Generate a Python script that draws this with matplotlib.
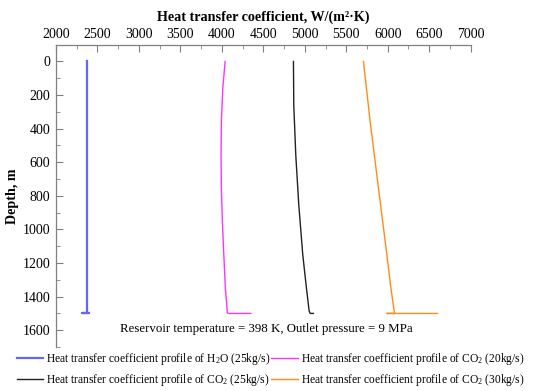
import matplotlib
matplotlib.use("Agg")
import matplotlib.pyplot as plt
from matplotlib.ticker import MultipleLocator

plt.rcParams['font.family'] = ['Liberation Serif', 'DejaVu Serif']
plt.rcParams['mathtext.fontset'] = 'custom'
plt.rcParams['mathtext.rm'] = 'Liberation Serif'
plt.rcParams['mathtext.it'] = 'Liberation Serif:italic'
plt.rcParams['mathtext.bf'] = 'Liberation Serif:bold'

# depth (m) and heat transfer coefficient (W/(m2 K))
depth_h2o = [0, 1500, 1500, 1500]
htc_h2o = [2370, 2370, 2310, 2400]

depth_co2_20 = [0, 160, 358, 556, 754, 951, 1149, 1346, 1495, 1500, 1500]
htc_co2_20 = [4039, 4011, 3994, 3990, 3994, 4006, 4023, 4042, 4066, 4078, 4349]

depth_co2_25 = [0, 259, 556, 852, 1149, 1346, 1485, 1500, 1500]
htc_co2_25 = [4863, 4867, 4891, 4927, 4975, 5019, 5052, 5065, 5104]

depth_co2_30 = [0, 358, 754, 1149, 1346, 1485, 1500, 1500, 1500]
htc_co2_30 = [5707, 5788, 5888, 5989, 6037, 6077, 6085, 5989, 6600]

labels = [
    "Heat transfer coefficient profile of H$_2$O (25kg/s)",
    "Heat transfer coefficient profile of CO$_2$ (20kg/s)",
    "Heat transfer coefficient profile of CO$_2$ (25kg/s)",
    "Heat transfer coefficient profile of CO$_2$ (30kg/s)",
]

fig = plt.figure(figsize=(5.5, 3.91), dpi=100)
ax = fig.add_axes([0.1018, 0.1125, 0.754, 0.7732])

l1, = ax.plot(htc_h2o, depth_h2o, color='#6464ff', lw=1.6, label=labels[0])
l2, = ax.plot(htc_co2_20, depth_co2_20, color='#ff33ff', lw=1.0, label=labels[1])
l3, = ax.plot(htc_co2_25, depth_co2_25, color='#222222', lw=1.0, label=labels[2])
l4, = ax.plot(htc_co2_30, depth_co2_30, color='#ff8c1a', lw=1.0, label=labels[3])

ax.set_xlim(2000, 7000)
ax.set_ylim(1700, -100)
ax.xaxis.set_major_locator(MultipleLocator(500))
ax.xaxis.set_minor_locator(MultipleLocator(250))
ax.yaxis.set_minor_locator(MultipleLocator(100))
ax.set_yticks(range(0, 1601, 200))

ax.xaxis.tick_top()
ax.xaxis.set_label_position('top')
ax.spines['right'].set_visible(False)
ax.spines['bottom'].set_visible(False)
for s in ['top', 'left']:
    ax.spines[s].set_color('#808080')
    ax.spines[s].set_linewidth(0.9)
ax.tick_params(which='both', direction='in', color='#808080', labelsize=10)
ax.tick_params(which='major', length=5)
ax.tick_params(which='minor', length=3)
ax.tick_params(axis='x', which='both', top=True, bottom=False, pad=3)
ax.tick_params(axis='y', which='both', left=True, right=False, pad=4)

ax.set_xlabel("Heat transfer coefficient, W/(m²·K)", fontsize=10.2, fontweight='bold', labelpad=5)
ax.set_ylabel("Depth, m", fontsize=10.2, fontweight='bold', labelpad=3)

ax.text(0.506, 0.06, "Reservoir temperature = 398 K, Outlet pressure = 9 MPa",
        transform=ax.transAxes, ha='center', va='center', fontsize=9.3)

# legend rows: H2O, CO2 20 / CO2 25, CO2 30
fig.legend([l1, l3, l2, l4], [labels[0], labels[2], labels[1], labels[3]],
           loc='center left', bbox_to_anchor=(0.03, 0.055), ncol=2, frameon=False,
           fontsize=8.3, handlelength=2.3, handletextpad=0.3, columnspacing=0.05,
           labelspacing=0.5, borderaxespad=0, borderpad=0)

fig.savefig("out.png", dpi=100)
